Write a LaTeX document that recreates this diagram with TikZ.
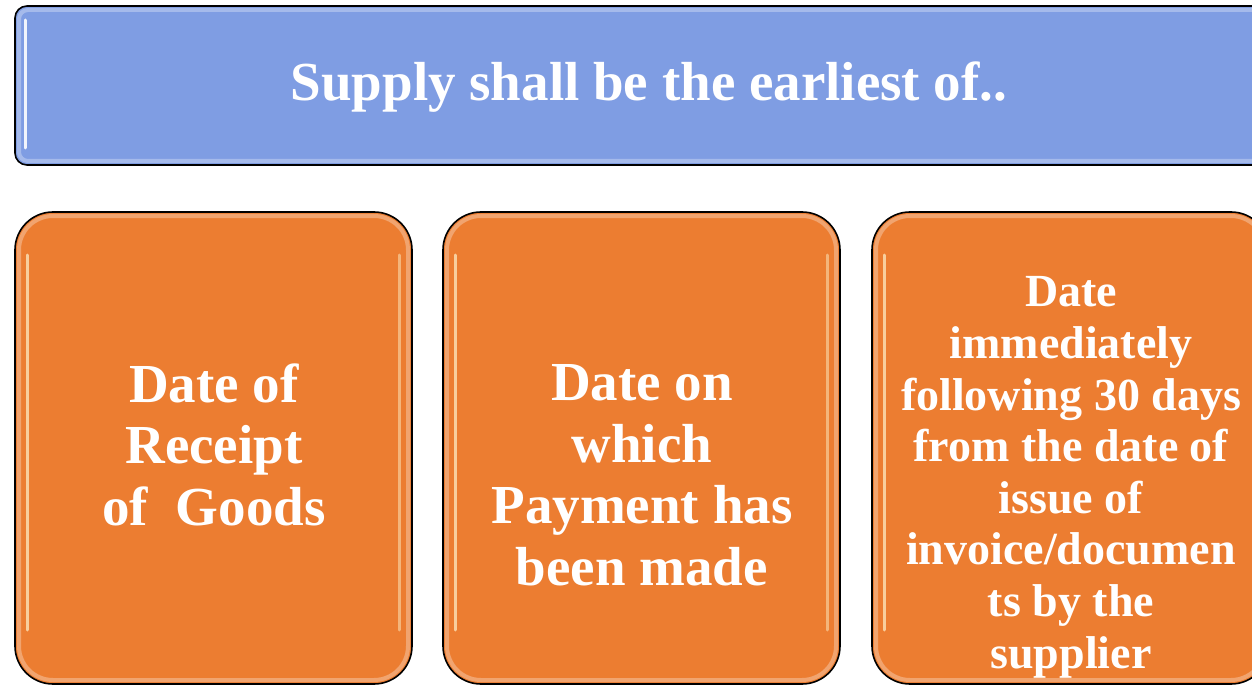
\documentclass[tikz,border=0pt]{standalone}
\usepackage{fontspec}
\setmainfont{Liberation Serif}
\definecolor{bannerblue}{HTML}{7F9DE3}
\definecolor{boxorange}{HTML}{EC7D31}
\definecolor{glossy}{HTML}{FCE3B8}
\tikzset{
  banner/.style={fill=bannerblue, draw=black, line width=1.6bp, rounded corners=12bp, inner sep=0},
  obox/.style={fill=boxorange, draw=black, line width=1.6bp, rounded corners=38bp, inner sep=0,
               minimum width=397bp, minimum height=472bp},
  rim/.style={draw=white, opacity=0.3, line width=4bp},
  streak/.style={draw=glossy, opacity=0.8, line width=3bp, line cap=round},
  bigtxt/.style={text=white, anchor=base, align=center, inner sep=0,
                 font=\bfseries\fontsize{55bp}{61.5bp}\selectfont},
  smalltxt/.style={text=white, anchor=base, align=center, inner sep=0,
                 font=\bfseries\fontsize{46bp}{51.6bp}\selectfont},
}
\begin{document}
\begin{tikzpicture}[x=1bp, y=-1bp]
\useasboundingbox (0,0) rectangle (1252,685);
\clip (0,0) rectangle (1252,685);
% banner
\node[banner, minimum width=1270bp, minimum height=159bp] (ban) at (650,85.5) {};
\draw[rim, rounded corners=9bp] (19,10) rectangle (1290,161);
\draw[streak, draw=white, opacity=0.9] (25,20) -- (25,148);
\node[bigtxt] (title) at (649,101) {Supply shall be the earliest of..};
% boxes
\node[obox] (b1) at (213.5,448) {};
\node[obox] (b2) at (641.5,448) {};
\node[obox] (b3) at (1070.5,448) {};
\foreach \cx in {213.5,641.5,1070.5}{
  \draw[rim, rounded corners=34bp] (\cx-194.5,216) rectangle (\cx+194.5,680);
  \draw[streak] (\cx-186,255) -- (\cx-186,630);
  \draw[streak, opacity=0.55] (\cx+186,255) -- (\cx+186,630);
}
\node[bigtxt] (t1) at (214,525) {Date of\\Receipt\\of~\ Goods};
\node[bigtxt] (t2) at (642,585) {Date on\\which\\Payment has\\been made};
\node[smalltxt] (t3) at (1071,668) {Date\\immediately\\following 30 days\\from the date of\\issue of\\invoice/documen\\ts by the\\supplier};
\end{tikzpicture}
\end{document}
